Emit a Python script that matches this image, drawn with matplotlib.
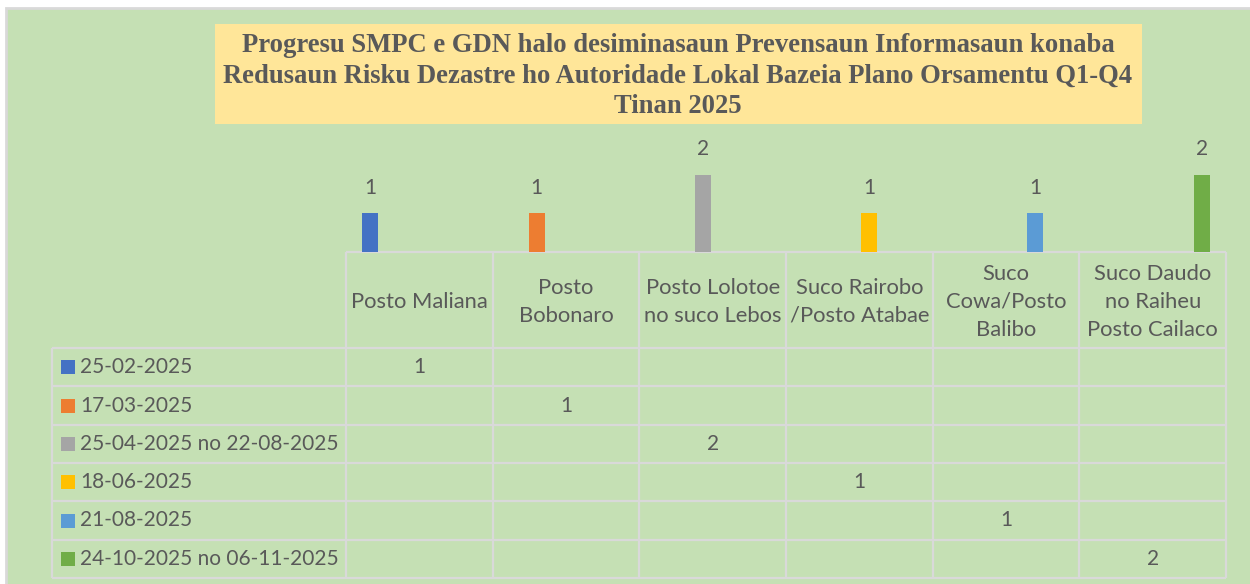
import matplotlib
matplotlib.use('Agg')
import matplotlib.pyplot as plt
from matplotlib.patches import Rectangle
import numpy as np

W, H = 1250, 584

title = ("Progresu SMPC e GDN halo desiminasaun Prevensaun Informasaun konaba\n"
         "Redusaun Risku Dezastre ho Autoridade Lokal Bazeia Plano Orsamentu Q1-Q4\n"
         "Tinan 2025")

locations = ["Posto Maliana", "Posto\nBobonaro", "Posto Lolotoe\nno suco Lebos",
             "Suco Rairobo\n/Posto Atabae", "Suco\nCowa/Posto\nBalibo",
             "Suco Daudo\nno Raiheu\nPosto Cailaco"]
periods = ["25-02-2025", "17-03-2025", "25-04-2025 no 22-08-2025",
           "18-06-2025", "21-08-2025", "24-10-2025 no 06-11-2025"]
colors = ['#4472C4', '#ED7D31', '#A5A5A5', '#FFC000', '#5B9BD5', '#70AD47']

# activities per period and location (None = empty cell)
act_2502 = [1, None, None, None, None, None]
act_1703 = [None, 1, None, None, None, None]
act_2504 = [None, None, 2, None, None, None]
act_1806 = [None, None, None, 1, None, None]
act_2108 = [None, None, None, None, 1, None]
act_2410 = [None, None, None, None, None, 2]
series = [act_2502, act_1703, act_2504, act_1806, act_2108, act_2410]

TXT = '#595959'
GRID = '#D9D9D9'
BODY = 'Lato'
FS = 15.8
FS_NUM = 15.0   # Lato digits run wide, so the date labels get a smaller size

fig = plt.figure(figsize=(W / 100, H / 100), dpi=100, facecolor='white')

# full-figure canvas in pixel coordinates for background, title and data table
bg = fig.add_axes([0, 0, 1, 1], zorder=0)
bg.set_xlim(0, W); bg.set_ylim(H, 0); bg.axis('off')
bg.add_patch(Rectangle((6, 8), W, H, fc='#C5E0B4', ec='#D9D9D9', lw=2))
bg.add_patch(Rectangle((215, 24), 927, 100, fc='#FFE699', ec='none'))
bg.text(678, 76, title, ha='center', va='center', fontsize=19.2,
        fontweight='bold', family='Liberation Serif', color=TXT, linespacing=1.27)

# table geometry
x0, cw = 346, 880 / 6
head_top, head_bot = 252, 348
rh = (578 - 348) / 6
lx = 52
col_edges = [x0 + cw * i for i in range(7)]
row_edges = [head_bot + rh * i for i in range(7)]

bg.hlines(head_top, x0, col_edges[-1], color=GRID, lw=1.6)
for y in row_edges:
    bg.hlines(y, lx, col_edges[-1], color=GRID, lw=1.6)
bg.vlines(lx, head_bot, row_edges[-1], color=GRID, lw=1.6)
for x in col_edges:
    bg.vlines(x, head_top, row_edges[-1], color=GRID, lw=1.6)

for j, loc in enumerate(locations):
    bg.text(x0 + cw * (j + 0.5), (head_top + head_bot) / 2 + 2, loc, ha='center',
            va='center', fontsize=FS, family=BODY, color=TXT, linespacing=1.5)

for i, (name, vals, c) in enumerate(zip(periods, series, colors)):
    yc = row_edges[i] + rh / 2
    bg.add_patch(Rectangle((61, yc - 7), 14, 14, fc=c, ec='none'))
    bg.text(80, yc, name, ha='left', va='center', fontsize=FS_NUM, family=BODY, color=TXT)
    for j, v in enumerate(vals):
        if v is not None:
            bg.text(x0 + cw * (j + 0.5), yc, str(v), ha='center', va='center',
                    fontsize=FS_NUM, family=BODY, color=TXT)

# clustered columns above the table
ax = fig.add_axes([x0 / W, (H - head_top) / H, 880 / W, 116 / H], zorder=1)
ax.set_facecolor('none')
ax.set_xlim(-0.5, 5.5); ax.set_ylim(0, 3)
ax.axis('off')
step, bw = 19.6 / cw, 16 / cw
pos = np.arange(len(locations))
for i, (vals, c) in enumerate(zip(series, colors)):
    idx = [j for j, v in enumerate(vals) if v is not None]
    bars = ax.bar(pos[idx] + (i - 2.5) * step, [vals[j] for j in idx], width=bw, color=c)
    ax.bar_label(bars, padding=11, fontsize=FS_NUM, family=BODY, color=TXT)

fig.savefig('out.png', dpi=100, facecolor='white')
